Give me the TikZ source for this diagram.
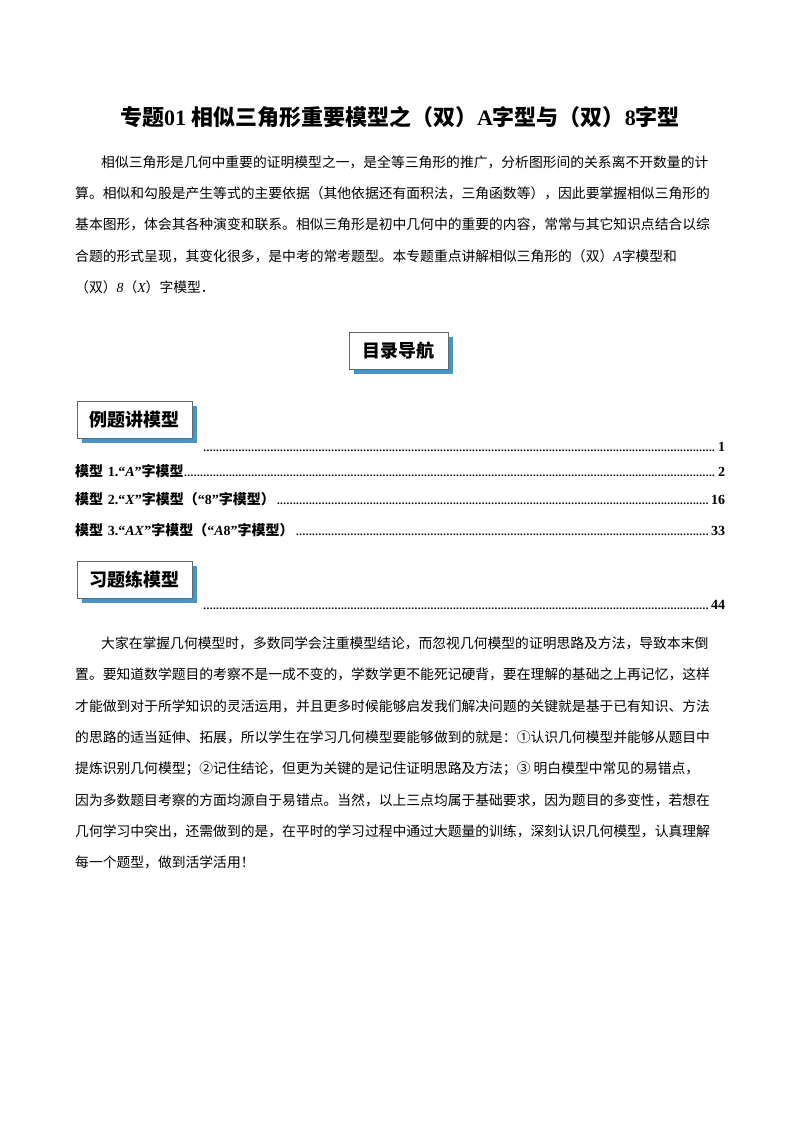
\documentclass[tikz,border=0pt]{standalone}
\usepackage{fontspec}
\setmainfont{Noto Sans CJK SC}
\newfontfamily\lat{Liberation Serif}
\definecolor{boxshadow}{RGB}{66,150,200}
\newcommand{\dleader}{\leaders\hbox to 3.2pt{\hss{\lat\bfseries\fontsize{11}{12}\selectfont.}\hss}\hfill}
\tikzset{
 ln/.style={anchor=base west,inner sep=0,font=\fontsize{13.8}{14}\selectfont},
 toc/.style={anchor=base west,inner sep=0,text width=650pt,font=\fontsize{14}{15}\selectfont\bfseries},
 hbox/.style={draw=black!60,fill=white,line width=0.8pt,font=\fontsize{18}{20}\selectfont\bfseries,inner sep=0},
}
\begin{document}
\begin{tikzpicture}[x=1pt,y=-1pt]
\useasboundingbox (0,0) rectangle (800,1132);
\node[anchor=base,inner sep=0,font=\fontsize{22}{24}\selectfont\bfseries] (title) at (400,125) {专题{\lat 01} 相似三角形重要模型之（双）{\lat A}字型与（双）{\lat 8}字型};
\node[ln] (p1) at (101,167) {相似三角形是几何中重要的证明模型之一，是全等三角形的推广，分析图形间的关系离不开数量的计};
\node[ln] (p2) at (75,198) {算。相似和勾股是产生等式的主要依据（其他依据还有面积法，三角函数等），因此要掌握相似三角形的};
\node[ln] (p3) at (75,229) {基本图形，体会其各种演变和联系。相似三角形是初中几何中的重要的内容，常常与其它知识点结合以综};
\node[ln] (p4) at (75,261) {合题的形式呈现，其变化很多，是中考的常考题型。本专题重点讲解相似三角形的（双）{\lat\itshape A}字模型和};
\node[ln] (p5) at (75,292) {（双）{\lat\itshape 8}（{\lat\itshape X}）字模型．};
% boxes
\fill[boxshadow] (354,337) rectangle (453,374);
\node[hbox,minimum width=99pt,minimum height=37pt] (b1) at (398.5,350.5) {目录导航};
\fill[boxshadow] (82,406) rectangle (197,443);
\node[hbox,minimum width=115pt,minimum height=37pt] (b2) at (134.5,419.5) {例题讲模型};
\fill[boxshadow] (82,566) rectangle (197,603);
\node[hbox,minimum width=115pt,minimum height=37pt] (b3) at (134.5,579.5) {习题练模型};
% toc
\node[toc,text width=522pt] (t0) at (203,451) {\dleader{\lat 1}};
\node[toc] (t1) at (75,476) {模型 {\lat 1.“\textit{A}”}字模型\dleader{\lat 2}};
\node[toc] (t2) at (75,504) {模型 {\lat 2.“\textit{X}”}字模型（{\lat “8”}字模型）\dleader{\lat 16}};
\node[toc] (t3) at (75,535) {模型 {\lat 3.“\textit{AX}”}字模型（{\lat “\textit{A}8”}字模型）\dleader{\lat 33}};
\node[toc,text width=522pt] (t4) at (203,609) {\dleader{\lat 44}};
% para 2
\node[ln] (q1) at (101,648) {大家在掌握几何模型时，多数同学会注重模型结论，而忽视几何模型的证明思路及方法，导致本末倒};
\node[ln] (q2) at (75,679) {置。要知道数学题目的考察不是一成不变的，学数学更不能死记硬背，要在理解的基础之上再记忆，这样};
\node[ln] (q3) at (75,711) {才能做到对于所学知识的灵活运用，并且更多时候能够启发我们解决问题的关键就是基于已有知识、方法};
\node[ln] (q4) at (75,742) {的思路的适当延伸、拓展，所以学生在学习几何模型要能够做到的就是：①认识几何模型并能够从题目中};
\node[ln] (q5) at (75,773) {提炼识别几何模型；②记住结论，但更为关键的是记住证明思路及方法；③ 明白模型中常见的易错点，};
\node[ln] (q6) at (75,805) {因为多数题目考察的方面均源自于易错点。当然，以上三点均属于基础要求，因为题目的多变性，若想在};
\node[ln] (q7) at (75,836) {几何学习中突出，还需做到的是，在平时的学习过程中通过大题量的训练，深刻认识几何模型，认真理解};
\node[ln] (q8) at (75,867) {每一个题型，做到活学活用！};
\end{tikzpicture}
\end{document}
